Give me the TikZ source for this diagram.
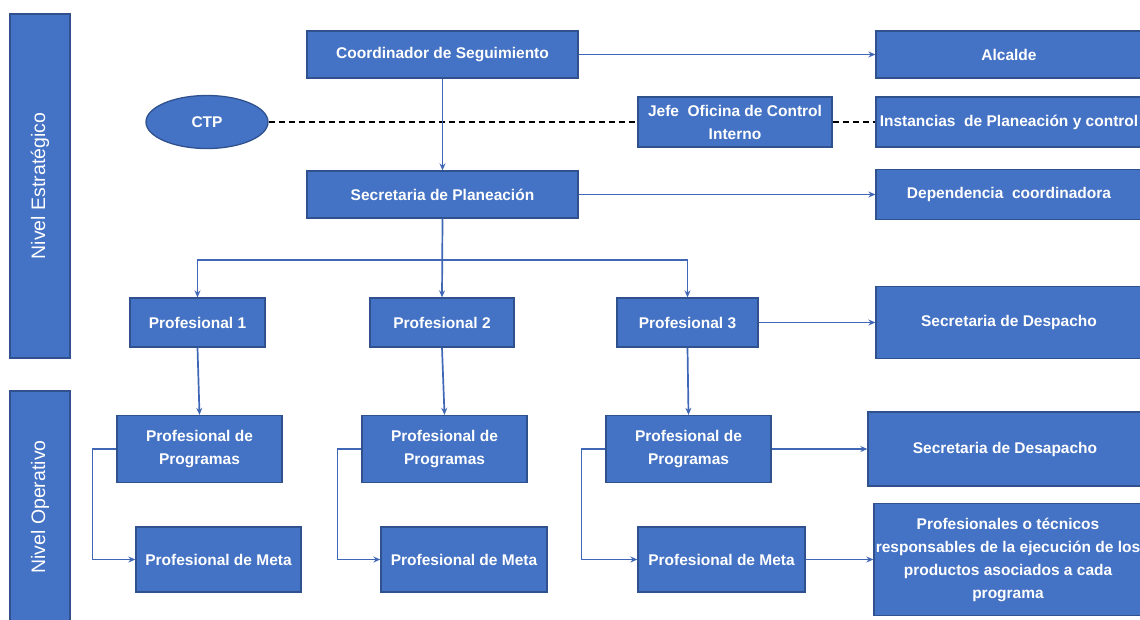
\documentclass[tikz,border=0pt]{standalone}
\usepackage{fontspec}
\setmainfont{Liberation Sans}
\usetikzlibrary{arrows.meta,shapes.geometric}
\definecolor{boxblue}{HTML}{4472C4}
\definecolor{bdr}{HTML}{2F528F}
\definecolor{lineblue}{HTML}{3F67B5}
\begin{document}
\begin{tikzpicture}[x=1pt,y=-1pt,
  box/.style={draw=bdr, fill=boxblue, line width=1.3pt, text=white,
    font=\bfseries\fontsize{15.5}{23}\selectfont, align=center, inner sep=0pt},
  band/.style={draw=bdr, fill=boxblue, line width=1.3pt},
  bandtext/.style={text=white, font=\fontsize{19.5}{22}\selectfont, rotate=90},
  conn/.style={draw=lineblue, line width=1.7pt, -{Stealth[length=7pt,width=6pt]}},
  dashline/.style={draw=black, line width=1.5pt, dash pattern=on 6pt off 4pt}
]
\useasboundingbox (0,0) rectangle (1140,619);
% bands
\node[band, minimum width=60pt, minimum height=344pt] (b1) at (40,186) {};
\node[bandtext] (b1t) at (b1.center) {Nivel Estratégico};
\node[band, minimum width=60pt, minimum height=240pt] (b2) at (40,511) {};
\node[bandtext] (b2t) at (40,507) {Nivel Operativo};
% strategic level
\node[box, minimum width=271pt, minimum height=47pt] (coord) at (442.5,54.5) {Coordinador de Seguimiento};
\node[box, minimum width=266pt, minimum height=47pt] (alc) at (1009,54.5) {Alcalde};
\node[box, ellipse, minimum width=122pt, minimum height=53pt] (ctp) at (207,122) {CTP};
\node[box, minimum width=194pt, minimum height=50pt] (jefe) at (735,122) {Jefe\ \ Oficina de Control\\Interno};
\node[box, minimum width=266pt, minimum height=50pt] (inst) at (1009,122) {Instancias\ \ de Planeación y control};
\node[box, minimum width=271pt, minimum height=47pt] (sec) at (442.5,194.5) {Secretaria de Planeación};
\node[box, minimum width=266pt, minimum height=50pt] (dep) at (1009,194.5) {Dependencia\ \ coordinadora};
\node[box, minimum width=135pt, minimum height=49pt] (p1) at (197.5,322.5) {Profesional 1};
\node[box, minimum width=144pt, minimum height=49pt] (p2) at (442,322.5) {Profesional 2};
\node[box, minimum width=141pt, minimum height=49pt] (p3) at (687.5,322.5) {Profesional 3};
\node[box, minimum width=266pt, minimum height=72pt] (sdesp) at (1009,322.5) {Secretaria de Despacho};
% operative level
\node[box, minimum width=165pt, minimum height=67pt] (pp1) at (199.5,449) {Profesional de\\Programas};
\node[box, minimum width=165pt, minimum height=67pt] (pp2) at (444.5,449) {Profesional de\\Programas};
\node[box, minimum width=165pt, minimum height=67pt] (pp3) at (688.5,449) {Profesional de\\Programas};
\node[box, minimum width=274pt, minimum height=74pt] (sdesa) at (1005,449) {Secretaria de Desapacho};
\node[box, minimum width=165pt, minimum height=65pt] (pm1) at (218.5,559.5) {Profesional de Meta};
\node[box, minimum width=166pt, minimum height=65pt] (pm2) at (464,559.5) {Profesional de Meta};
\node[box, minimum width=167pt, minimum height=65pt] (pm3) at (721.5,559.5) {Profesional de Meta};
\node[box, minimum width=268pt, minimum height=112pt] (prof) at (1008,559.5) {Profesionales o técnicos\\responsables de la ejecución de los\\productos asociados a cada\\programa};
% connectors
\draw[dashline] (ctp.east) -- (jefe.west);
\draw[dashline] (jefe.east) -- (inst.west);
\draw[conn] (coord.east) -- (alc.west);
\draw[conn] (coord.south) -- (sec.north);
\draw[conn] (sec.east) -- (dep.west);
\coordinate (bj) at (442.5,260);
\draw[conn] (sec.south) -- (p2.north);
\draw[conn] (bj) -| (p1.north);
\draw[conn] (bj) -| (p3.north);
\draw[conn] (p3.east) -- (sdesp.west);
\draw[conn] (p1.south) -- (pp1.north);
\draw[conn] (p2.south) -- (pp2.north);
\draw[conn] (p3.south) -- (pp3.north);
\draw[conn] (pp3.east) -- (sdesa.west);
\draw[conn] (pm3.east) -- (prof.west);
\draw[conn] (pp1.west) -- ++(-24,0) |- (pm1.west);
\draw[conn] (pp2.west) -- ++(-24,0) |- (pm2.west);
\draw[conn] (pp3.west) -- ++(-24,0) |- (pm3.west);
\end{tikzpicture}
\end{document}
